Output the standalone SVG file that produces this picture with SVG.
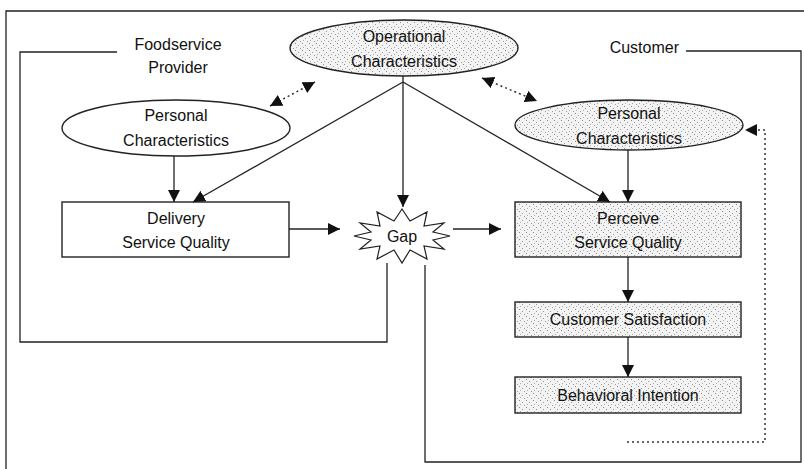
<svg xmlns="http://www.w3.org/2000/svg" width="804" height="469" viewBox="0 0 804 469">
<style>
.t{font-family:"Liberation Sans","DejaVu Sans",sans-serif;font-size:16px;fill:#111;text-anchor:middle}
.ln{stroke:#222;stroke-width:1.3;fill:none}
.bx{stroke:#222;stroke-width:1.4}
.dot{stroke:#333;stroke-width:1.5;stroke-dasharray:2 3;fill:none}
</style>
<defs>
<pattern id="stip" width="7" height="7" patternUnits="userSpaceOnUse">
<rect width="7" height="7" fill="#f3f3f3"/>
<rect x="1" y="1" width="1" height="1" fill="#888"/>
<rect x="4" y="3" width="1" height="1" fill="#999"/>
<rect x="2" y="5" width="1" height="1" fill="#aaa"/>
<rect x="6" y="6" width="1" height="1" fill="#999"/>
</pattern>
<marker id="ahb" viewBox="0 0 10 10" refX="10" refY="5" markerWidth="12" markerHeight="12" markerUnits="userSpaceOnUse" orient="auto-start-reverse">
<path d="M0,0 L10,5 L0,10 z" fill="#111"/>
</marker>
</defs>
<rect width="804" height="469" fill="#fff"/>

<g id="frames">
<path class="ln" d="M6,469 V11 H804"/>
<path class="ln" d="M117,52 H20 V342 H387 V263"/>
<path class="ln" d="M686,51 H801 V462 H425 V265"/>
<text class="t" x="178" y="50">Foodservice</text>
<text class="t" x="178" y="73">Provider</text>
<text class="t" x="679" y="53" style="text-anchor:end">Customer</text>
</g>

<g id="operational">
<ellipse cx="404" cy="48" rx="114" ry="28" fill="url(#stip)" class="bx"/>
<text class="t" x="404" y="42">Operational</text>
<text class="t" x="404" y="67">Characteristics</text>
</g>

<g id="personal-provider">
<ellipse cx="176" cy="128" rx="114" ry="28" fill="#fff" class="bx"/>
<text class="t" x="176" y="121">Personal</text>
<text class="t" x="176" y="146">Characteristics</text>
</g>

<g id="personal-customer">
<ellipse cx="629" cy="125" rx="114" ry="25" fill="url(#stip)" class="bx"/>
<text class="t" x="629" y="119">Personal</text>
<text class="t" x="629" y="144">Characteristics</text>
</g>

<g id="delivery">
<rect x="62" y="202" width="227" height="55" fill="#fff" class="bx"/>
<text class="t" x="176" y="224">Delivery</text>
<text class="t" x="176" y="248">Service  Quality</text>
</g>

<g id="gap">
<polygon points="450,236 433,240 444,249 424,246 427,259 410,250 402,263 394,250 377,259 380,246 360,249 371,240 354,236 371,232 360,223 380,226 377,212 394,221 402,209 410,221 427,212 424,226 444,223 433,232" fill="#fff" stroke="#222" stroke-width="1.2"/>
<text class="t" x="402" y="242">Gap</text>
</g>

<g id="perceive">
<rect x="515" y="202" width="226" height="55" fill="url(#stip)" class="bx"/>
<text class="t" x="628" y="224">Perceive</text>
<text class="t" x="628" y="248">Service  Quality</text>
</g>

<g id="satisfaction">
<rect x="515" y="302" width="226" height="35" fill="url(#stip)" class="bx"/>
<text class="t" x="628" y="325">Customer  Satisfaction</text>
</g>

<g id="intention">
<rect x="515" y="377" width="226" height="36" fill="url(#stip)" class="bx"/>
<text class="t" x="628" y="401">Behavioral  Intention</text>
</g>

<g id="connectors">
<line class="dot" x1="270" y1="106" x2="315" y2="82" marker-start="url(#ahb)" marker-end="url(#ahb)"/>
<line class="dot" x1="482" y1="78" x2="537" y2="101" marker-start="url(#ahb)" marker-end="url(#ahb)"/>
<line class="ln" x1="174" y1="156" x2="174" y2="202" marker-end="url(#ahb)"/>
<line class="ln" x1="403" y1="82" x2="193" y2="202" marker-end="url(#ahb)"/>
<line class="ln" x1="403" y1="76" x2="403" y2="207" marker-end="url(#ahb)"/>
<line class="ln" x1="403" y1="82" x2="610" y2="202" marker-end="url(#ahb)"/>
<line class="ln" x1="628" y1="150" x2="628" y2="202" marker-end="url(#ahb)"/>
<line class="ln" x1="289" y1="229" x2="340" y2="229" stroke-width="2" marker-end="url(#ahb)"/>
<line class="ln" x1="453" y1="229" x2="501" y2="229" marker-end="url(#ahb)"/>
<line class="ln" x1="628" y1="257" x2="628" y2="302" marker-end="url(#ahb)"/>
<line class="ln" x1="628" y1="337" x2="628" y2="377" marker-end="url(#ahb)"/>
<path class="dot" d="M627,442 H765 V130 H745" marker-end="url(#ahb)"/>
</g>
</svg>
